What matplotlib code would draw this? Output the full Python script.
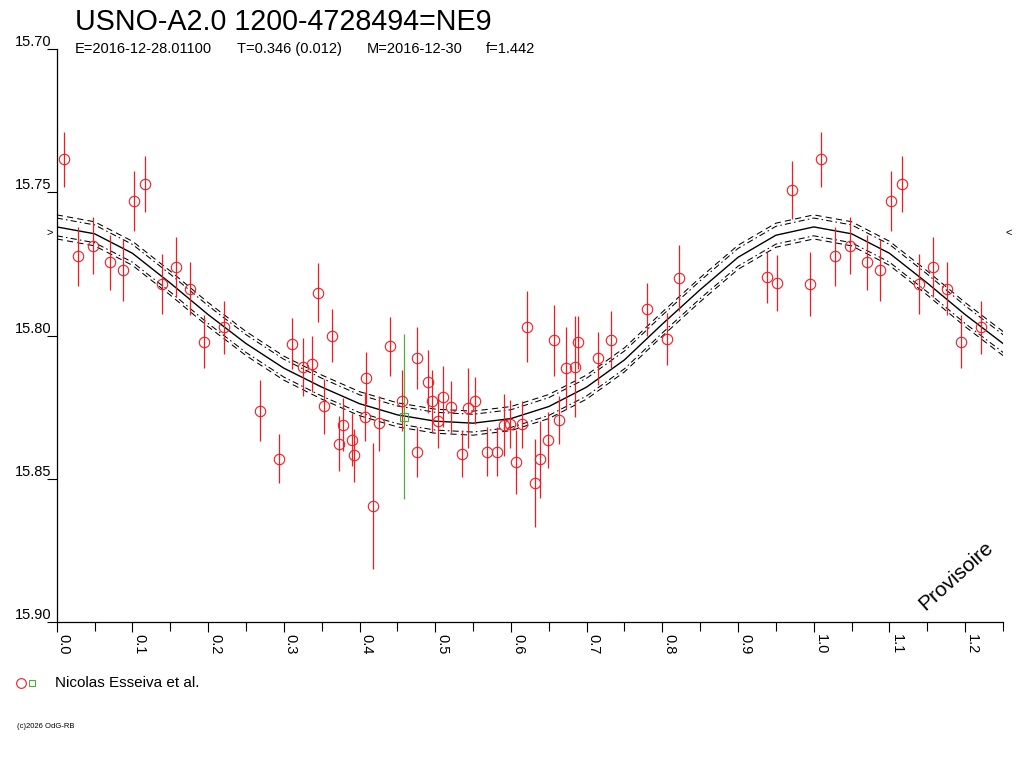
import matplotlib
matplotlib.use("Agg")
import matplotlib.pyplot as plt
import numpy as np
from matplotlib.lines import Line2D

plt.rcParams["font.family"] = ["Liberation Sans", "DejaVu Sans"]

TITLE = "USNO-A2.0 1200-4728494=NE9"
SUBTITLE_PARTS = ["E=2016-12-28.01100", "T=0.346 (0.012)", "M=2016-12-30", "f=1.442"]
OBSERVER = "Nicolas Esseiva et al."
COPYRIGHT = "(c)2026 OdG-RB"
STAMP = "Provisoire"

# observations (phase, magnitude, error), red circles
obs_phase = [
    0.0100, 0.0277, 0.0483, 0.0708, 0.0876, 0.1017, 0.1170, 0.1387, 0.1576, 0.1765,
    0.1950, 0.2214, 0.2686, 0.2941, 0.3104, 0.3258, 0.3369, 0.3456, 0.3641, 0.3531,
    0.3782, 0.3733, 0.3905, 0.3927, 0.4090, 0.4073, 0.4182, 0.4254, 0.4403, 0.4565,
    0.4763, 0.4763, 0.4899, 0.4962, 0.5041, 0.5107, 0.5209, 0.5354, 0.5437, 0.5526,
    0.5684, 0.5820, 0.5913, 0.5988, 0.6067, 0.6151, 0.6213, 0.6323, 0.6389, 0.6486,
    0.6570, 0.6640, 0.6728, 0.6851, 0.6890, 0.7150, 0.7322, 0.7802, 0.8058, 0.8217,
    0.9379, 0.9519, 0.9717, 0.9955,
]
obs_mag = [
    15.7385, 15.7724, 15.7687, 15.7745, 15.7771, 15.7531, 15.7472, 15.7819, 15.7761, 15.7836,
    15.8022, 15.7971, 15.8263, 15.8430, 15.8028, 15.8110, 15.8100, 15.7850, 15.8001, 15.8247,
    15.8311, 15.8377, 15.8363, 15.8418, 15.8148, 15.8283, 15.8594, 15.8306, 15.8038, 15.8227,
    15.8080, 15.8406, 15.8162, 15.8229, 15.8298, 15.8213, 15.8250, 15.8412, 15.8252, 15.8227,
    15.8405, 15.8405, 15.8313, 15.8309, 15.8442, 15.8310, 15.7969, 15.8514, 15.8432, 15.8365,
    15.8017, 15.8294, 15.8114, 15.8109, 15.8024, 15.8080, 15.8014, 15.7909, 15.8013, 15.7799,
    15.7797, 15.7817, 15.7492, 15.7819,
]
obs_err = [
    0.0097, 0.0104, 0.0099, 0.0097, 0.0108, 0.0104, 0.0098, 0.0105, 0.0105, 0.0094,
    0.0093, 0.0092, 0.0106, 0.0086, 0.0089, 0.0100, 0.0097, 0.0104, 0.0092, 0.0096,
    0.0093, 0.0097, 0.0094, 0.0092, 0.0092, 0.0086, 0.0220, 0.0096, 0.0104, 0.0108,
    0.0108, 0.0087, 0.0110, 0.0110, 0.0095, 0.0106, 0.0090, 0.0083, 0.0140, 0.0083,
    0.0086, 0.0086, 0.0108, 0.0084, 0.0112, 0.0083, 0.0123, 0.0153, 0.0135, 0.0098,
    0.0125, 0.0084, 0.0143, 0.0176, 0.0093, 0.0093, 0.0101, 0.0092, 0.0090, 0.0116,
    0.0089, 0.0097, 0.0102, 0.0112,
]

# second observer set (green square)
obs2_phase = [0.4584]
obs2_mag = [15.8283]
obs2_err = [0.0289]

# fitted light curve, read every 0.05 in phase
fit_phase = [0.00, 0.05, 0.10, 0.15, 0.20, 0.25, 0.30, 0.35, 0.40, 0.45, 0.50,
             0.55, 0.60, 0.65, 0.70, 0.75, 0.80, 0.85, 0.90, 0.95, 1.00]
fit_mag = [15.7621, 15.7645, 15.7713, 15.7817, 15.7927, 15.8028, 15.8114, 15.8180,
           15.8238, 15.8277, 15.8299, 15.8306, 15.8290, 15.8248, 15.8180, 15.8085,
           15.7960, 15.7840, 15.7727, 15.7650, 15.7621]
band_inner = 0.0031
band_outer = 0.0042
max_level = 15.764

RED = "#f01c24"
GREEN = "#4caf3c"

fig = plt.figure(figsize=(10.24, 7.68), dpi=100)
ax = fig.add_axes([0.0554, 0.1901, 0.9241, 0.7461])

# curve, repeated over one and a quarter cycle
fp = np.array(fit_phase)
fm = np.array(fit_mag)
cx = np.concatenate([fp[:-1], fp + 1.0])
cy = np.concatenate([fm[:-1], fm])
ax.plot(cx, cy, color="black", lw=1.0, zorder=3)
for off in (-band_inner, band_inner):
    ax.plot(cx, cy + off, color="black", lw=0.75, ls=(0, (6, 3, 1.5, 3)), zorder=3)
for off in (-band_outer, band_outer):
    ax.plot(cx, cy + off, color="black", lw=0.75, ls=(0, (6, 4)), zorder=3)

for shift in (0.0, 1.0):
    ph = np.array(obs_phase) + shift
    ax.errorbar(ph, obs_mag, yerr=obs_err, fmt="o", mfc="none", mec=RED, ecolor=RED,
                ms=7.5, mew=0.8, elinewidth=0.9, capsize=0, zorder=4)
    ph2 = np.array(obs2_phase) + shift
    ax.errorbar(ph2, obs2_mag, yerr=obs2_err, fmt="s", mfc="none", mec=GREEN, ecolor=GREEN,
                ms=6, mew=0.8, elinewidth=0.9, capsize=0, zorder=4)

ax.set_xlim(0.0, 1.25)
ax.set_ylim(15.90, 15.70)

for side in ("top", "right"):
    ax.spines[side].set_visible(False)
for side in ("left", "bottom"):
    ax.spines[side].set_linewidth(0.9)

yt = [15.70, 15.75, 15.80, 15.85, 15.90]
ax.set_yticks(yt)
ax.set_yticklabels([f"{v:.2f}" for v in yt], fontsize=10.5, va="bottom")
ax.tick_params(axis="y", direction="out", length=7.5, width=0.8, pad=-4, colors="black")

xt = [0.0, 0.1, 0.2, 0.3, 0.4, 0.5, 0.6, 0.7, 0.8, 0.9, 1.0, 1.1, 1.2]
ax.set_xticks(xt)
ax.set_xticklabels([f"{v:.1f}" for v in xt], rotation=-90, ha="left", va="top", fontsize=10.5)
ax.set_xticks(np.arange(0.05, 1.26, 0.1), minor=True)
ax.tick_params(axis="x", which="major", direction="out", length=7.5, width=0.8, pad=1)
ax.tick_params(axis="x", which="minor", direction="out", length=6.5, width=0.8)

# mean maximum markers on both sides
ax.text(-0.004, max_level, ">", transform=ax.get_yaxis_transform(), ha="right", va="center",
        fontsize=8)
ax.text(1.003, max_level, "<", transform=ax.get_yaxis_transform(), ha="left", va="center",
        fontsize=8)

ax.text(0.950, 0.081, STAMP, transform=ax.transAxes, rotation=42, ha="center", va="center",
        fontsize=15, color="black")

fig.text(75 / 1024, 1 - 30 / 768, TITLE, fontsize=20.6, ha="left", va="baseline")
for part, px in zip(SUBTITLE_PARTS, (75, 237, 367, 486)):
    fig.text(px / 1024, 1 - 53 / 768, part, fontsize=10.5, ha="left", va="baseline")

fig.add_artist(Line2D([20.7 / 1024], [1 - 682.7 / 768], transform=fig.transFigure, marker="o",
                      ms=7, mfc="none", mec=RED, mew=0.8, ls="none"))
fig.add_artist(Line2D([32.3 / 1024], [1 - 682.7 / 768], transform=fig.transFigure, marker="s",
                      ms=5, mfc="none", mec=GREEN, mew=0.8, ls="none"))
fig.text(55 / 1024, 1 - 682.7 / 768, OBSERVER, fontsize=11, ha="left", va="center")
fig.text(17 / 1024, 1 - 726 / 768, COPYRIGHT, fontsize=5.5, ha="left", va="center")

fig.savefig("out.png", dpi=100)
